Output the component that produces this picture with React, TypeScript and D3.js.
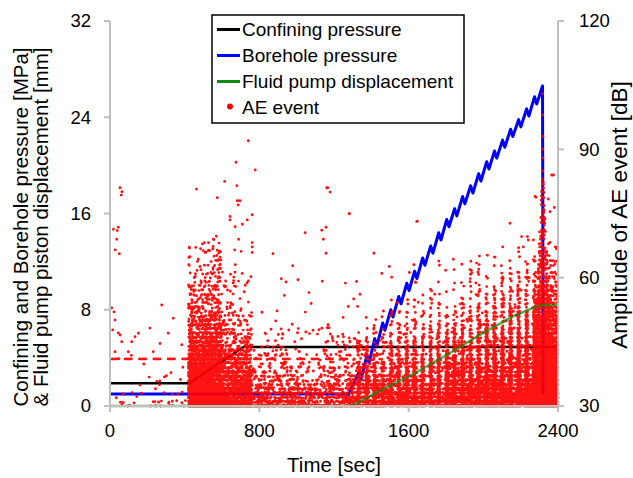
import React, { useMemo } from "react";
import * as d3 from "d3";

// ---------------- data ----------------
const xTicks = [0, 800, 1600, 2400];
const leftTicks = [0, 8, 16, 24, 32];
const rightTicks = [30, 60, 90, 120];

const confiningTime = [0, 425, 715, 2395];
const confiningMPa = [1.9, 1.9, 4.9, 4.9];

const boreholeTime = [0, 1280, 1333, 1345, 1376, 1388, 1418, 1430, 1461, 1473, 1504, 1516, 1547, 1559, 1590, 1602, 1632, 1644, 1675, 1687, 1718, 1730, 1761, 1773, 1804, 1816, 1846, 1858, 1889, 1901, 1932, 1944, 1975, 1987, 2018, 2030, 2060, 2072, 2103, 2115, 2146, 2158, 2189, 2201, 2232, 2244, 2274, 2286, 2317, 2321];
const boreholeMPa = [1, 1, 2.8, 2.2, 4.2, 3.6, 5.6, 5.0, 6.9, 6.3, 8.0, 7.4, 9.1, 8.5, 10.2, 9.6, 11.2, 10.6, 12.3, 11.7, 13.3, 12.7, 14.4, 13.8, 15.5, 14.9, 16.4, 15.8, 17.4, 16.8, 18.3, 17.7, 19.3, 18.7, 20.3, 19.7, 21.2, 20.6, 22.1, 21.5, 23.0, 22.4, 23.8, 23.2, 24.7, 24.1, 25.7, 25.1, 26.6, 1];

const pumpTime = [0, 1290, 1450, 1630, 1810, 1990, 2165, 2290, 2320, 2400];
const pumpMm = [0, 0, 1.3, 2.7, 4.3, 6.0, 7.5, 8.3, 8.4, 8.4];

// AE event cloud: density read per time segment (count, dB e-folding, highest dB)
const aeSegStart = [0, 420, 600, 760, 1290, 1800, 2330];
const aeSegEnd = [420, 600, 760, 1290, 1800, 2290, 2400];
const aeSegCount = [45, 3500, 1400, 1000, 1100, 2000, 2600];
const aeSegDecay = [4, 8, 7, 5, 4.5, 5, 7.8];
const aeSegCap = [50, 70, 66, 60, 56, 60, 68];

// AE bursts at each pressurisation cycle (vertical stripes)
const aeColumnTime = [1333, 1376, 1418, 1461, 1504, 1547, 1590, 1632, 1675, 1718, 1761, 1804, 1846, 1889, 1932, 1975, 2018, 2060, 2103, 2146, 2189, 2232, 2274];
const aeColumnCount = [140, 160, 180, 200, 220, 240, 260, 280, 300, 320, 340, 360, 380, 420, 460, 500, 540, 580, 620, 680, 740, 800, 860];
const aeColumnDecay = [5, 5, 5, 5.2, 5.2, 5.4, 5.4, 5.6, 5.6, 5.8, 5.8, 6, 6, 6.2, 6.4, 6.6, 6.8, 7, 7, 7.2, 7.4, 7.5, 7.5];
const aeColumnCap = [58, 60, 60, 62, 62, 62, 62, 63, 63, 63, 64, 64, 64, 65, 65, 65, 66, 66, 66, 67, 67, 68, 68];

// breakdown spike
const aeSpikeTime = [2318];
const aeSpikeCount = [3000];
const aeSpikeDecay = [10];
const aeSpikeCap = [82];

// constant-amplitude band of events (dashed look) before fracturing
const aeBandDb = [41];
const aeBandStart = [0];
const aeBandEnd = [1290];

// individual events
const aeOutlierTime = [53.6, 64, 60.7, 18, 39, 44.6, 36, 28.6, 50, 741, 675, 778, 614, 464, 680, 575, 682, 696, 687, 643, 643, 735, 762, 670, 709, 570, 689, 762, 762, 762, 527, 575, 668, 873, 979, 1007, 943, 1066, 1161, 1179, 1166, 1134, 1157, 1143, 1157, 1045, 1282, 482, 552,
  9, 21.4, 26.8, 14.5, 44.6, 54, 62.7, 26.8, 277, 339, 214, 152, 134, 116, 268, 312, 384, 98, 232, 291, 161, 232, 143,
  2318, 2318, 2319, 2318, 2319, 2318, 2317, 2320, 2376, 2282, 2348, 2380, 2357, 2236, 2268, 2214, 2143, 2205, 2104, 1964, 2241, 1643, 2277, 2366, 1282, 1646, 1414, 1456, 1496, 1509, 1321, 1604];
const aeOutlierDb = [81.0, 80.1, 79.3, 71.3, 71.0, 71.8, 69.0, 66.5, 65.6, 92.0, 87.0, 85.2, 82.5, 80.7, 81.5, 78.7, 78.0, 78.0, 77.0, 74.3, 73.5, 73.5, 74.7, 71.9, 72.5, 69.7, 69.0, 68.2, 67.2, 65.9, 66.4, 66.4, 66.5, 65.6, 62.8, 59.5, 59.0, 56.5, 81.0, 80.0, 81.0, 71.1, 71.8, 69.0, 65.7, 70.5, 74.9, 62.6, 62.3,
  52.9, 52.0, 50.1, 47.8, 47.1, 46.6, 45.0, 42.7, 53.6, 50.5, 48.2, 47.0, 46.2, 45.0, 44.6, 47.0, 44.3, 42.7, 42.7, 36.8, 34.9, 31.0, 32.2,
  103, 98, 93, 90, 88, 85, 83, 82, 84.0, 78.8, 78.4, 76.4, 75.4, 69.6, 68.8, 67.2, 72.7, 69.6, 67.2, 63.4, 68.8, 73.1, 79.0, 84.0, 75.0, 73.2, 65.7, 61.0, 62.6, 60.1, 59.1, 61.2];

const legendLabels = ["Confining pressure", "Borehole pressure", "Fluid pump displacement", "AE event"];
const legendColors = ["#000000", "#0000ff", "#108a10", "#ff0000"];

// ---------------- helpers ----------------
function mulberry32(seed: number) {
  let a = seed;
  return function () {
    a |= 0;
    a = (a + 0x6d2b79f5) | 0;
    let t = Math.imul(a ^ (a >>> 15), 1 | a);
    t = (t + Math.imul(t ^ (t >>> 7), 61 | t)) ^ t;
    return ((t ^ (t >>> 14)) >>> 0) / 4294967296;
  };
}

function buildAE(): [number, number][] {
  const rnd = mulberry32(918273);
  const out: [number, number][] = [];
  const drawDb = (decay: number, cap: number) => {
    for (let i = 0; i < 50; i++) {
      const db = 30 + Math.floor(-decay * Math.log(1 - rnd()));
      if (db <= cap) return Math.max(30, db + (rnd() - 0.5) * 0.6);
    }
    return 30;
  };
  for (let s = 0; s < aeSegStart.length; s++) {
    for (let k = 0; k < aeSegCount[s]; k++) {
      out.push([aeSegStart[s] + rnd() * (aeSegEnd[s] - aeSegStart[s]), drawDb(aeSegDecay[s], aeSegCap[s])]);
    }
  }
  for (let c = 0; c < aeColumnTime.length; c++) {
    for (let k = 0; k < aeColumnCount[c]; k++) {
      out.push([aeColumnTime[c] + (rnd() * 2 - 1) * 6.5, drawDb(aeColumnDecay[c], aeColumnCap[c])]);
    }
  }
  for (let k = 0; k < aeSpikeCount[0]; k++) {
    const db = drawDb(aeSpikeDecay[0], aeSpikeCap[0]);
    const w = 4 + (aeSpikeCap[0] - db) * 1.1;
    out.push([aeSpikeTime[0] + (rnd() * 2 - 1) * w, db]);
  }
  let i = 0;
  for (let t = aeBandStart[0] + 4; t < aeBandEnd[0]; t += 11, i++) {
    if (i % 7 < 4) out.push([t, aeBandDb[0]]);
  }
  for (let k = 0; k < aeOutlierTime.length; k++) out.push([aeOutlierTime[k], aeOutlierDb[k]]);
  return out.filter(([t, db]) => t >= 0 && t <= 2400 && db >= 30 && db <= 120);
}

const FONT = "'Liberation Sans', Arial, sans-serif";

export default function App() {
  const x = d3.scaleLinear().domain([0, 2400]).range([110, 558]);
  const yL = d3.scaleLinear().domain([0, 32]).range([406, 21]);
  const yR = d3.scaleLinear().domain([30, 120]).range([406, 21]);

  const mkLine = (ts: number[], vs: number[]) =>
    d3
      .line<number>()
      .x((_, i) => x(ts[i]))
      .y((_, i) => yL(vs[i]))(ts) || "";

  const ae = useMemo(() => buildAE(), []);
  const aePath = ae.map(([t, db]) => `M${x(t).toFixed(1)},${yR(db).toFixed(1)}h0`).join("");

  const axisColor = "#bfbfbf";

  return (
    <svg width={633} height={478} style={{ position: "absolute", left: 0, top: 0, background: "#fff" }} fontFamily={FONT}>
      <rect x={0} y={0} width={633} height={478} fill="#fff" />

      {/* series lines */}
      <path d={mkLine(confiningTime, confiningMPa)} fill="none" stroke={legendColors[0]} strokeWidth={2.5} />
      <path d={mkLine(boreholeTime, boreholeMPa)} fill="none" stroke={legendColors[1]} strokeWidth={3} strokeLinejoin="round" />

      {/* AE events */}
      <path d={aePath} fill="none" stroke="#ff0000" strokeOpacity={0.93} strokeWidth={2.9} strokeLinecap="round" />

      {/* pump displacement shows through the cloud */}
      <path d={mkLine(pumpTime, pumpMm)} fill="none" stroke={legendColors[2]} strokeWidth={2.5} strokeOpacity={0.7} />

      {/* axes */}
      <g stroke={axisColor} strokeWidth={2} fill="none">
        <line x1={110} y1={yL(32)} x2={110} y2={yL(0)} />
        <line x1={558} y1={yR(120)} x2={558} y2={yR(30)} />
        <line x1={110} y1={406} x2={558} y2={406} />
        {leftTicks.map((v) => (
          <line key={"lt" + v} x1={104} x2={110} y1={yL(v)} y2={yL(v)} />
        ))}
        {rightTicks.map((v) => (
          <line key={"rt" + v} x1={558} x2={564} y1={yR(v)} y2={yR(v)} />
        ))}
        {xTicks.map((v) => (
          <line key={"xt" + v} x1={x(v)} x2={x(v)} y1={406} y2={412} />
        ))}
      </g>

      <g fontSize={18.5} fill="#000">
        {leftTicks.map((v) => (
          <text key={"ll" + v} x={91} y={yL(v)} dy="0.35em" textAnchor="end">
            {v}
          </text>
        ))}
        {rightTicks.map((v) => (
          <text key={"rl" + v} x={579} y={yR(v)} dy="0.35em" textAnchor="start">
            {v}
          </text>
        ))}
        {xTicks.map((v) => (
          <text key={"xl" + v} x={x(v)} y={437} textAnchor="middle">
            {v}
          </text>
        ))}
      </g>

      {/* axis titles */}
      <g fontSize={20.5} fill="#000">
        <text x={334} y={472} textAnchor="middle">
          Time [sec]
        </text>
        <text transform="translate(27.5,227) rotate(-90)" textAnchor="middle">
          Confining and Borehole pressure [MPa]
        </text>
        <text transform="translate(47.5,227) rotate(-90)" textAnchor="middle">
          &amp; Fluid pump piston displacement [mm]
        </text>
        <text transform="translate(627,215) rotate(-90)" textAnchor="middle" fontSize={22.5}>
          Amplitude of AE event [dB]
        </text>
      </g>

      {/* legend */}
      <g>
        <rect x={212} y={15} width={252} height={108} fill="#fff" stroke="#000" strokeWidth={1.5} />
        {legendLabels.map((lab, i) => {
          const cy = 29.5 + i * 26;
          return (
            <g key={lab}>
              {i < 3 ? (
                <line x1={217} x2={240} y1={cy} y2={cy} stroke={legendColors[i]} strokeWidth={3} />
              ) : (
                <circle cx={230} cy={cy - 1} r={3} fill="#ff0000" />
              )}
              <text x={242} y={cy + 6.5} fontSize={19} fill="#000">
                {lab}
              </text>
            </g>
          );
        })}
      </g>
    </svg>
  );
}
